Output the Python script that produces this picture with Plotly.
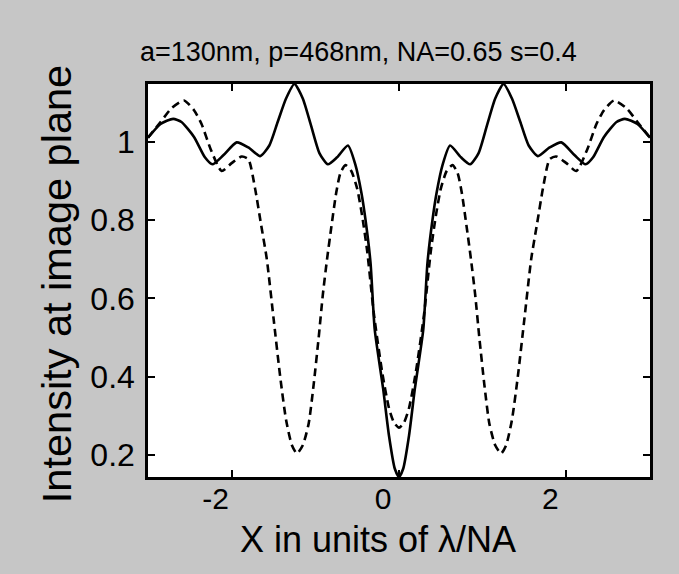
import plotly.graph_objects as go

# Image-plane intensity profiles across the pattern (x in units of lambda/NA)
x_solid = [-3.0, -2.85, -2.7, -2.6, -2.45, -2.32, -2.23, -2.1, -1.94, -1.8, -1.66,
           -1.55, -1.45, -1.35, -1.25, -1.15, -1.05, -0.95, -0.85, -0.74, -0.61,
           -0.52, -0.45, -0.4, -0.34, -0.29, -0.19, -0.12, -0.05, 0.0,
           0.05, 0.12, 0.19, 0.29, 0.34, 0.4, 0.45, 0.52, 0.61, 0.74, 0.85,
           0.95, 1.05, 1.15, 1.25, 1.35, 1.45, 1.55, 1.66, 1.8, 1.94, 2.1,
           2.23, 2.32, 2.45, 2.6, 2.7, 2.85, 3.0]
y_solid = [1.01, 1.045, 1.058, 1.05, 1.012, 0.96, 0.942, 0.965, 0.998, 0.985, 0.963,
           0.99, 1.05, 1.11, 1.147, 1.11, 1.04, 0.97, 0.942, 0.96, 0.99,
           0.94, 0.87, 0.80, 0.69, 0.52, 0.37, 0.25, 0.165, 0.144,
           0.165, 0.25, 0.37, 0.52, 0.69, 0.80, 0.87, 0.94, 0.99, 0.96, 0.942,
           0.97, 1.04, 1.11, 1.147, 1.11, 1.05, 0.99, 0.963, 0.985, 0.998, 0.965,
           0.942, 0.96, 1.012, 1.05, 1.058, 1.045, 1.01]

x_dash = [-3.0, -2.85, -2.72, -2.57, -2.45, -2.36, -2.25, -2.12, -2.0, -1.88, -1.8,
          -1.72, -1.65, -1.58, -1.5, -1.42, -1.35, -1.28, -1.22, -1.15, -1.08,
          -1.02, -0.96, -0.91, -0.86, -0.81, -0.75, -0.7, -0.64, -0.57, -0.5,
          -0.44, -0.38, -0.3, -0.2, -0.12, -0.06, 0.0,
          0.06, 0.12, 0.2, 0.3, 0.38, 0.44, 0.5, 0.57, 0.64, 0.7, 0.75,
          0.81, 0.86, 0.91, 0.96, 1.02, 1.08, 1.15, 1.22, 1.28, 1.35,
          1.42, 1.5, 1.58, 1.65, 1.72, 1.8, 1.88, 2.0, 2.12, 2.25,
          2.36, 2.45, 2.57, 2.72, 2.85, 3.0]
y_dash = [1.01, 1.05, 1.085, 1.105, 1.08, 1.045, 0.98, 0.925, 0.945, 0.962, 0.955,
          0.88, 0.79, 0.70, 0.55, 0.40, 0.29, 0.225, 0.204, 0.225, 0.28,
          0.38, 0.50, 0.61, 0.70, 0.78, 0.87, 0.92, 0.94, 0.925, 0.88,
          0.81, 0.72, 0.56, 0.41, 0.32, 0.283, 0.27,
          0.283, 0.32, 0.41, 0.56, 0.72, 0.81, 0.88, 0.925, 0.94, 0.92, 0.87,
          0.78, 0.70, 0.61, 0.50, 0.38, 0.28, 0.225, 0.204, 0.225, 0.29,
          0.40, 0.55, 0.70, 0.79, 0.88, 0.955, 0.962, 0.945, 0.925, 0.98,
          1.045, 1.08, 1.105, 1.085, 1.05, 1.01]

x_ticks = [-2, 0, 2]
x_ticklabels = ["-2", "0", "2"]
y_ticks = [0.2, 0.4, 0.6, 0.8, 1.0]
y_ticklabels = ["0.2", "0.4", "0.6", "0.8", "1"]

title_text = "a=130nm, p=468nm, NA=0.65 s=0.4"
x_title = "X in units of \u03bb/NA"
y_title = "Intensity at image plane"

FONT = "Liberation Sans, Arial, Helvetica, sans-serif"

fig = go.Figure()
fig.add_trace(go.Scatter(x=x_solid, y=y_solid, mode="lines",
                         line=dict(color="black", width=2.6, shape="spline", smoothing=0.6),
                         showlegend=False))
fig.add_trace(go.Scatter(x=x_dash, y=y_dash, mode="lines",
                         line=dict(color="black", width=2.6, dash="8px,5px",
                                   shape="spline", smoothing=0.6),
                         showlegend=False))

axis_common = dict(showgrid=False, zeroline=False, showline=True, linecolor="black",
                   linewidth=2.5, mirror="ticks", ticks="inside", ticklen=7,
                   tickwidth=2, tickcolor="black")

fig.update_xaxes(range=[-3, 3], tickvals=x_ticks, ticktext=x_ticklabels,
                 ticklabelshift=-16, ticklabelstandoff=-7,
                 tickfont=dict(family=FONT, size=30, color="black"), **axis_common)
fig.update_yaxes(range=[min(y_solid), max(y_solid)], tickvals=y_ticks,
                 ticktext=y_ticklabels, ticklabelstandoff=4,
                 tickfont=dict(family=FONT, size=32, color="black"), **axis_common)

fig.add_annotation(text=title_text, xref="paper", yref="paper", x=0.42, y=1.081,
                   xanchor="center", yanchor="middle", showarrow=False,
                   font=dict(family=FONT, size=27, color="black"))
fig.add_annotation(text=x_title, xref="paper", yref="paper", x=0.459, y=-0.158,
                   xanchor="center", yanchor="middle", showarrow=False,
                   font=dict(family=FONT, size=36, color="black"))
fig.add_annotation(text=y_title, xref="paper", yref="paper", x=-0.183, y=0.491,
                   xanchor="center", yanchor="middle", showarrow=False, textangle=-90,
                   font=dict(family=FONT, size=41.5, color="black"))

fig.update_layout(width=679, height=574, margin=dict(l=148, r=29, t=84, b=97),
                  paper_bgcolor="#c6c6c6", plot_bgcolor="white")

fig.write_html("out.html")
